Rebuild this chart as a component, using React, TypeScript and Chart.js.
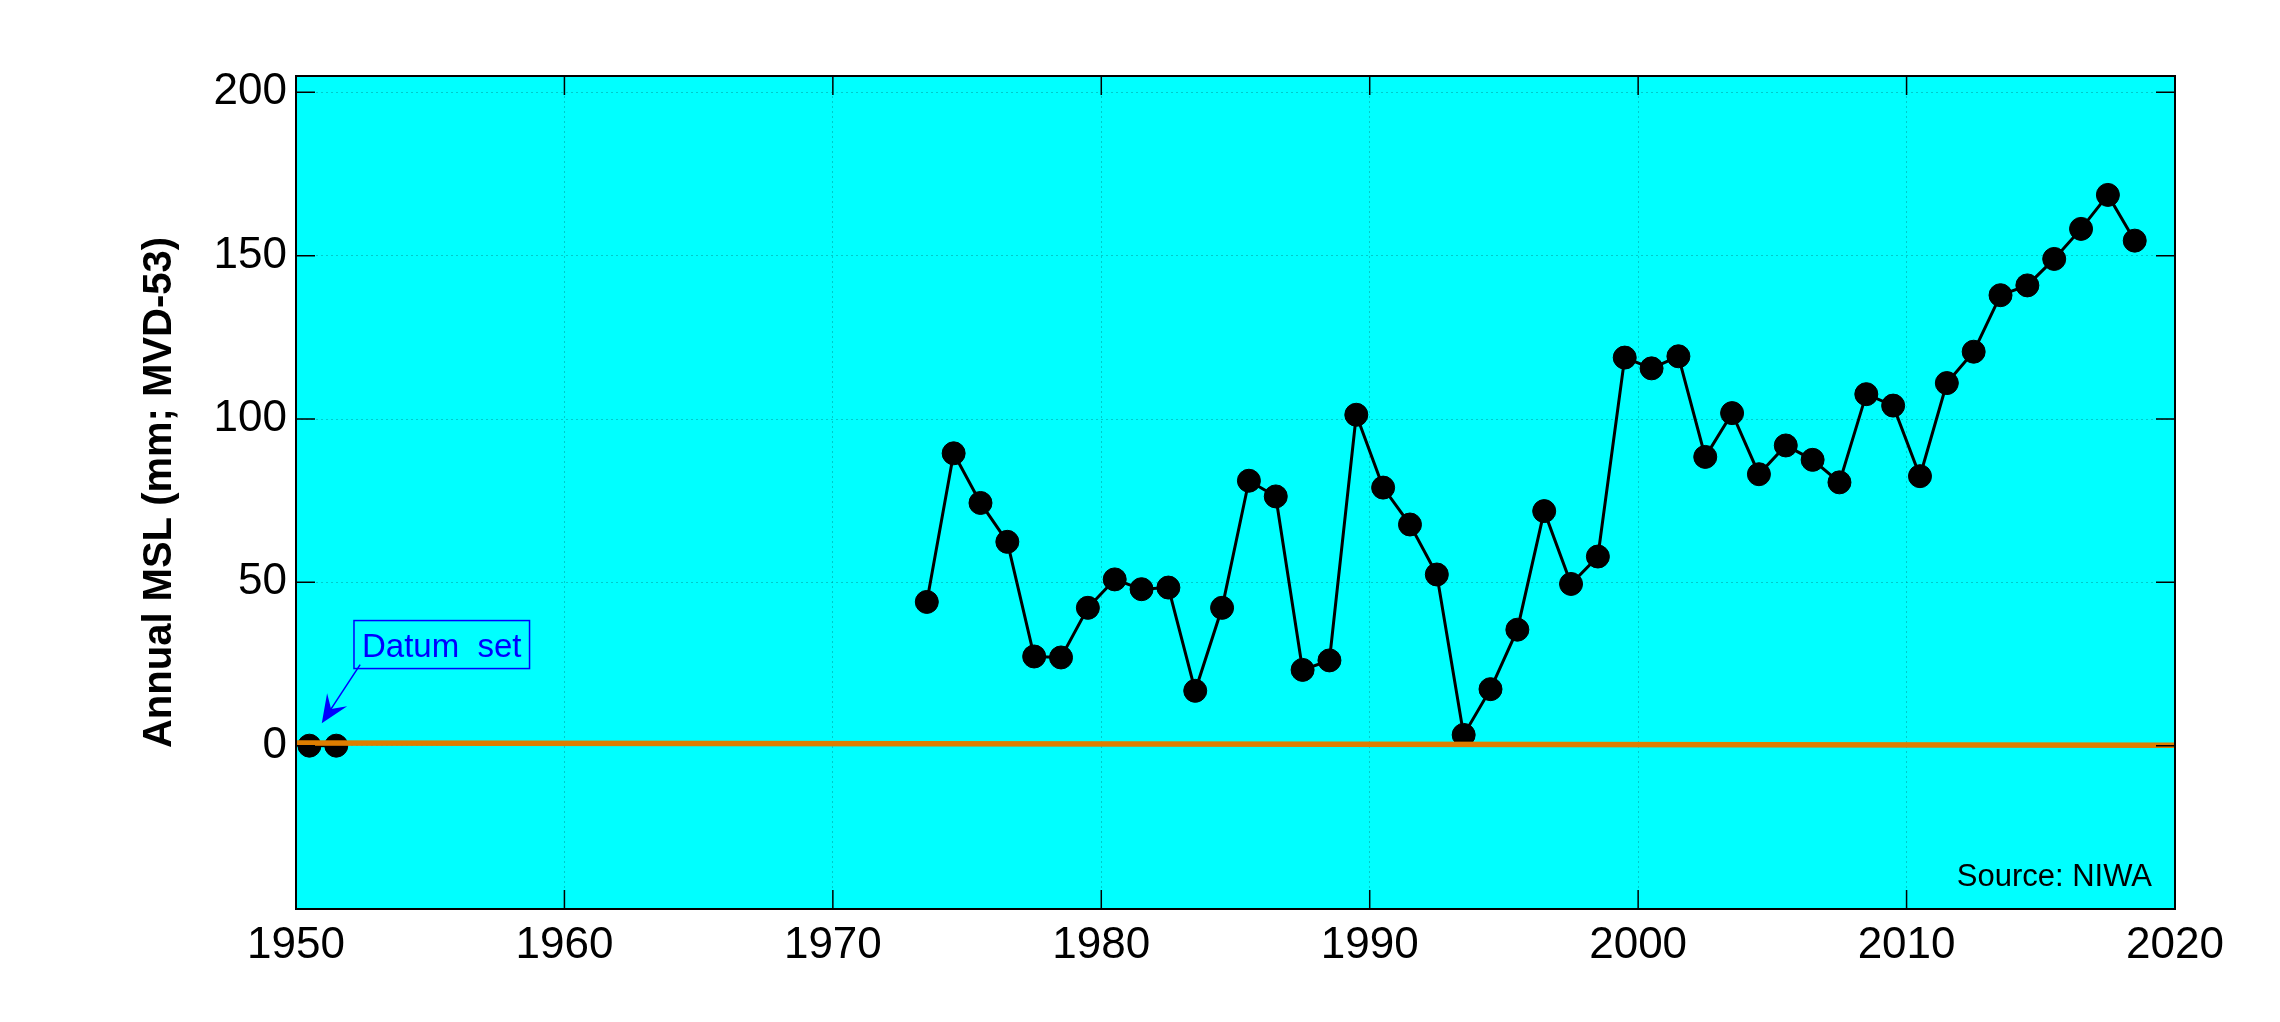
import React, { useEffect, useRef } from 'react';
import { Chart, registerables } from 'chart.js';

Chart.register(...registerables);

// ---- data ----
const datumYears = [1950.5, 1951.5];
const datumValues = [0, 0];

const mslYears = [
  1973.5, 1974.5, 1975.5, 1976.5, 1977.5, 1978.5, 1979.5, 1980.5, 1981.5, 1982.5,
  1983.5, 1984.5, 1985.5, 1986.5, 1987.5, 1988.5, 1989.5, 1990.5, 1991.5, 1992.5,
  1993.5, 1994.5, 1995.5, 1996.5, 1997.5, 1998.5, 1999.5, 2000.5, 2001.5, 2002.5,
  2003.5, 2004.5, 2005.5, 2006.5, 2007.5, 2008.5, 2009.5, 2010.5, 2011.5, 2012.5,
  2013.5, 2014.5, 2015.5, 2016.5, 2017.5, 2018.5,
];
const mslValues = [
  44.0, 89.5, 74.3, 62.4, 27.3, 27.0, 42.2, 50.9, 47.9, 48.4,
  16.8, 42.2, 81.1, 76.3, 23.2, 26.1, 101.3, 79.0, 67.7, 52.4,
  3.3, 17.3, 35.5, 71.8, 49.5, 57.9, 118.8, 115.5, 119.2, 88.4,
  101.8, 83.1, 91.9, 87.5, 80.6, 107.6, 104.1, 82.5, 111.0, 120.6,
  137.9, 140.9, 149.0, 158.2, 168.6, 154.6,
];

const refYears = [1950, 2020];
const refValues = [0.8, 0.1];

const xTicks = [1950, 1960, 1970, 1980, 1990, 2000, 2010, 2020];
const yTicks = [0, 50, 100, 150, 200];
const xRange = [1950, 2020];
const yRange = [-50, 205];

const yTitle = 'Annual MSL (mm; MVD-53)';
const annotationText = 'Datum  set';
const sourceText = 'Source: NIWA';
// annotation anchors in data units
const annBox = { x: 1952.16, y: 38.3 };
const annArrowTail = { x: 1952.39, y: 24.8 };
const annArrowTip = { x: 1950.96, y: 6.9 };

const FONT = '"Liberation Sans", Arial, Helvetica, sans-serif';

const decorPlugin = {
  id: 'decor',
  beforeDraw(chart: any) {
    const { ctx, chartArea: a } = chart;
    ctx.save();
    ctx.fillStyle = '#ffffff';
    ctx.fillRect(0, 0, chart.width, chart.height);
    ctx.fillStyle = '#00ffff';
    ctx.fillRect(a.left, a.top, a.right - a.left, a.bottom - a.top);
    ctx.restore();
  },
  afterDraw(chart: any) {
    const { ctx, chartArea: a, scales } = chart;
    const xs = scales.x;
    const ys = scales.y;
    ctx.save();
    // border
    ctx.strokeStyle = '#000000';
    ctx.lineWidth = 2;
    ctx.strokeRect(a.left, a.top, a.right - a.left, a.bottom - a.top);
    // inward tick marks
    const tl = 19;
    ctx.lineWidth = 1.5;
    ctx.beginPath();
    xTicks.forEach((v) => {
      const px = xs.getPixelForValue(v);
      ctx.moveTo(px, a.bottom);
      ctx.lineTo(px, a.bottom - tl);
      ctx.moveTo(px, a.top);
      ctx.lineTo(px, a.top + tl);
    });
    yTicks.forEach((v) => {
      const py = ys.getPixelForValue(v);
      ctx.moveTo(a.left, py);
      ctx.lineTo(a.left + tl, py);
      ctx.moveTo(a.right, py);
      ctx.lineTo(a.right - tl, py);
    });
    ctx.stroke();

    // source text
    ctx.fillStyle = '#000000';
    ctx.font = `31px ${FONT}`;
    ctx.textAlign = 'right';
    ctx.textBaseline = 'alphabetic';
    ctx.fillText(sourceText, a.right - 23, a.bottom - 23);

    // annotation box
    ctx.font = `33px ${FONT}`;
    ctx.textAlign = 'left';
    const bx = xs.getPixelForValue(annBox.x);
    const by = ys.getPixelForValue(annBox.y);
    const tw = ctx.measureText(annotationText).width;
    const bw = tw + 16;
    const bh = 48;
    ctx.strokeStyle = '#0000ff';
    ctx.lineWidth = 1.5;
    ctx.strokeRect(bx, by, bw, bh);
    ctx.fillStyle = '#0000ff';
    ctx.fillText(annotationText, bx + 8, by + 36);

    // arrow
    const tx = xs.getPixelForValue(annArrowTail.x);
    const ty = ys.getPixelForValue(annArrowTail.y);
    const hx = xs.getPixelForValue(annArrowTip.x);
    const hy = ys.getPixelForValue(annArrowTip.y);
    const ang = Math.atan2(hy - ty, hx - tx);
    const headLen = 28;
    const headW = 12;
    const notch = 17;
    const ux = Math.cos(ang);
    const uy = Math.sin(ang);
    const px = -uy;
    const py = ux;
    ctx.lineWidth = 1.5;
    ctx.beginPath();
    ctx.moveTo(tx, ty);
    ctx.lineTo(hx - ux * notch, hy - uy * notch);
    ctx.stroke();
    ctx.beginPath();
    ctx.moveTo(hx, hy);
    ctx.lineTo(hx - ux * headLen + px * headW, hy - uy * headLen + py * headW);
    ctx.lineTo(hx - ux * notch, hy - uy * notch);
    ctx.lineTo(hx - ux * headLen - px * headW, hy - uy * headLen - py * headW);
    ctx.closePath();
    ctx.fill();
    ctx.restore();
  },
};

export default function App() {
  const canvasRef = useRef<HTMLCanvasElement | null>(null);

  useEffect(() => {
    document.body.style.margin = '0';
    const canvas = canvasRef.current;
    if (!canvas) return;
    const toPts = (xsArr: number[], ysArr: number[]) => xsArr.map((x, i) => ({ x, y: ysArr[i] }));

    const chart = new Chart(canvas, {
      type: 'line',
      data: {
        datasets: [
          {
            label: 'reference',
            data: toPts(refYears, refValues),
            borderColor: '#de7d00',
            borderWidth: 5.5,
            pointRadius: 0,
            fill: false,
            order: 0,
          },
          {
            label: 'datum',
            data: toPts(datumYears, datumValues),
            borderColor: '#000000',
            backgroundColor: '#000000',
            borderWidth: 3,
            pointRadius: 11.5,
            pointBorderWidth: 1,
            pointBackgroundColor: '#000000',
            pointBorderColor: '#000000',
            fill: false,
            order: 1,
          },
          {
            label: 'msl',
            data: toPts(mslYears, mslValues),
            borderColor: '#000000',
            backgroundColor: '#000000',
            borderWidth: 3,
            pointRadius: 11.5,
            pointBorderWidth: 1,
            pointBackgroundColor: '#000000',
            pointBorderColor: '#000000',
            fill: false,
            tension: 0,
            order: 1,
          },
        ],
      },
      options: {
        animation: false,
        responsive: false,
        maintainAspectRatio: false,
        devicePixelRatio: 1,
        layout: { padding: { left: 0, top: 76, right: 105, bottom: 0 } },
        plugins: {
          legend: { display: false },
          tooltip: { enabled: false },
          title: { display: false },
        },
        scales: {
          x: {
            type: 'linear',
            position: 'bottom',
            min: xRange[0],
            max: xRange[1],
            afterBuildTicks: (s: any) => {
              s.ticks = xTicks.map((v) => ({ value: v }));
            },
            afterFit: (s: any) => {
              s.height = 113;
            },
            grid: {
              color: 'rgba(0,140,140,0.45)',
              lineWidth: 1,
              drawTicks: false,
              tickLength: 0,
            },
            border: { display: false, dash: [2, 3] },
            ticks: {
              color: '#000000',
              font: { family: FONT, size: 44 },
              padding: 10,
              maxRotation: 0,
              autoSkip: false,
              callback: (v: any) => String(v),
            },
          },
          y: {
            type: 'linear',
            position: 'left',
            min: yRange[0],
            max: yRange[1],
            afterBuildTicks: (s: any) => {
              s.ticks = yTicks.map((v) => ({ value: v }));
            },
            afterFit: (s: any) => {
              s.width = 296;
            },
            grid: {
              color: 'rgba(0,140,140,0.45)',
              lineWidth: 1,
              drawTicks: false,
              tickLength: 0,
            },
            border: { display: false, dash: [2, 3] },
            ticks: {
              color: '#000000',
              font: { family: FONT, size: 44 },
              padding: 9,
              autoSkip: false,
              callback: (v: any) => String(v),
            },
            title: {
              display: true,
              text: yTitle,
              color: '#000000',
              font: { family: FONT, size: 40, weight: 'bold', lineHeight: 1.2 },
              padding: { top: 136, bottom: 0 },
            },
          },
        },
      } as any,
      plugins: [decorPlugin],
    });

    return () => {
      chart.destroy();
    };
  }, []);

  return (
    <div style={{ width: 2280, height: 1022, background: '#ffffff' }}>
      <canvas ref={canvasRef} width={2280} height={1022} style={{ display: 'block', width: 2280, height: 1022 }} />
    </div>
  );
}
